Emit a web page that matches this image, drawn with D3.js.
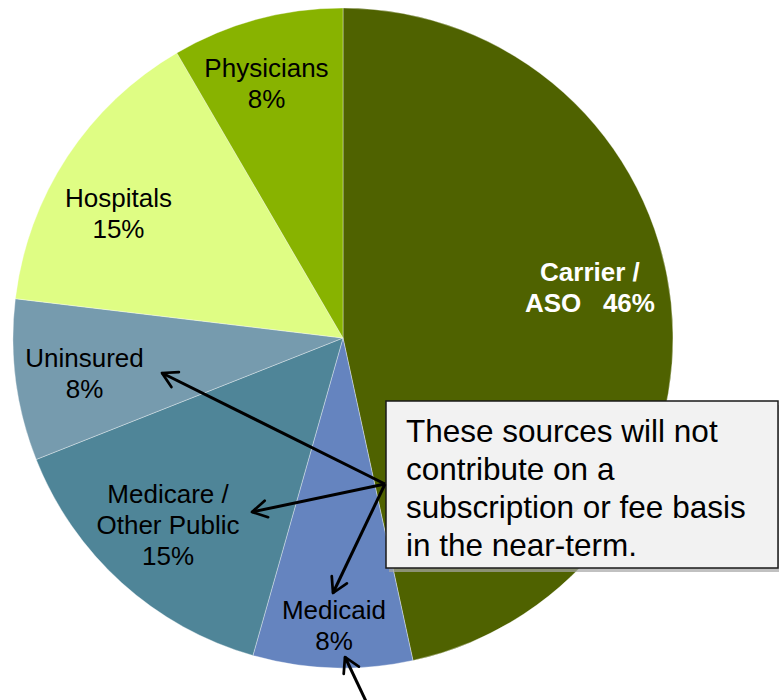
<!DOCTYPE html>
<html>
<head>
<meta charset="utf-8">
<script src="https://cdn.jsdelivr.net/npm/d3@7"></script>
<style>
  html, body { margin: 0; padding: 0; background: #ffffff; }
  svg { display: block; font-family: "Liberation Sans", Arial, sans-serif; }
</style>
</head>
<body>
<svg id="chart" width="779" height="700"></svg>
<script>
// ---- data ----
const categories = ["Carrier / ASO", "Medicaid", "Medicare / Other Public", "Uninsured", "Hospitals", "Physicians"];
const shares = [46.6, 7.8, 14.6, 7.9, 14.7, 8.4];          // estimated slice sizes (%)
const pctLabels = ["46%", "8%", "15%", "8%", "15%", "8%"];  // printed labels
const calloutLines = ["These sources will not", "contribute on a", "subscription or fee basis", "in the near-term."];

// ---- drawing ----
const svg = d3.select("#chart");
const W = 779, H = 700;
const cx = 343, cy = 338, R = 330;

const color = d3.scaleOrdinal()
  .domain(categories)
  .range(["#4f6200", "#6584bf", "#4f8598", "#769bae", "#dffd84", "#88b300"]);

const pie = d3.pie().sort(null).value(d => d.value).startAngle(0).endAngle(2 * Math.PI);
const data = categories.map((c, i) => ({ name: c, value: shares[i], pct: pctLabels[i], i }));
const arcs = pie(data);
const arc = d3.arc().innerRadius(0).outerRadius(R);

const g = svg.append("g").attr("transform", `translate(${cx},${cy})`);
g.selectAll("path.slice")
  .data(arcs)
  .join("path")
  .attr("class", "slice")
  .attr("d", arc)
  .attr("fill", d => color(d.data.name))
  .attr("stroke", "#ffffff")
  .attr("stroke-opacity", 0.45)
  .attr("stroke-width", 0.8);

// label placement (radius, angular nudge in degrees) - layout only
const labelLayout = [[252, -5.4], [288, 0], [256, 1], [261, -0.5], [257, -4.2], [266, -1.6]];
const lineH = 31;
arcs.forEach((d, i) => {
  const [lr, nudge] = labelLayout[i];
  const a = (d.startAngle + d.endAngle) / 2 + nudge * Math.PI / 180;
  const x = lr * Math.sin(a), y = -lr * Math.cos(a);
  const parts = d.data.name.split(" / ");
  let lines;
  if (i === 0) {
    lines = [parts[0] + " /", parts[1] + "   " + d.data.pct];
  } else if (parts.length > 1) {
    lines = [parts[0] + " /", parts[1], d.data.pct];
  } else {
    lines = [parts[0], d.data.pct];
  }
  const t = g.append("text")
    .attr("text-anchor", "middle")
    .attr("font-size", 26)
    .attr("font-weight", i === 0 ? "bold" : "normal")
    .attr("fill", i === 0 ? "#ffffff" : "#000000")
    .style("white-space", "pre");
  const first = y - (lines.length - 1) * lineH / 2 + 9;
  lines.forEach((ln, k) => {
    t.append("tspan").attr("x", x).attr("y", first + k * lineH).text(ln);
  });
});

// callout box
const bx = 386, by = 401, bw = 392, bh = 167;
svg.append("rect").attr("x", bx + 3).attr("y", by + 4).attr("width", bw).attr("height", bh)
  .attr("fill", "#a6a6a6").attr("opacity", 0.7);
svg.append("rect").attr("x", bx).attr("y", by).attr("width", bw).attr("height", bh)
  .attr("fill", "#f2f2f2").attr("stroke", "#1a1a1a").attr("stroke-width", 1.5);
const ct = svg.append("text").attr("font-size", 31.5).attr("fill", "#000");
calloutLines.forEach((ln, k) => {
  ct.append("tspan").attr("x", 406).attr("y", 442 + k * 38).text(ln);
});

// arrows
const defs = svg.append("defs");
defs.append("marker")
  .attr("id", "head")
  .attr("viewBox", "0 0 20 20")
  .attr("refX", 17).attr("refY", 10)
  .attr("markerWidth", 7).attr("markerHeight", 7)
  .attr("markerUnits", "strokeWidth")
  .attr("orient", "auto")
  .append("path")
  .attr("d", "M3,2 L17,10 L3,18")
  .attr("fill", "none")
  .attr("stroke", "#000")
  .attr("stroke-width", 2.6)
  .attr("stroke-linecap", "round")
  .attr("stroke-linejoin", "round");

const arrows = [
  [[385, 484], [162, 373]],
  [[385, 484], [252, 512]],
  [[385, 484], [333, 593]],
  [[373, 716], [345, 657]]
];
arrows.forEach(([s, e]) => {
  svg.append("line")
    .attr("x1", s[0]).attr("y1", s[1]).attr("x2", e[0]).attr("y2", e[1])
    .attr("stroke", "#000").attr("stroke-width", 3)
    .attr("marker-end", "url(#head)");
});
</script>
</body>
</html>
